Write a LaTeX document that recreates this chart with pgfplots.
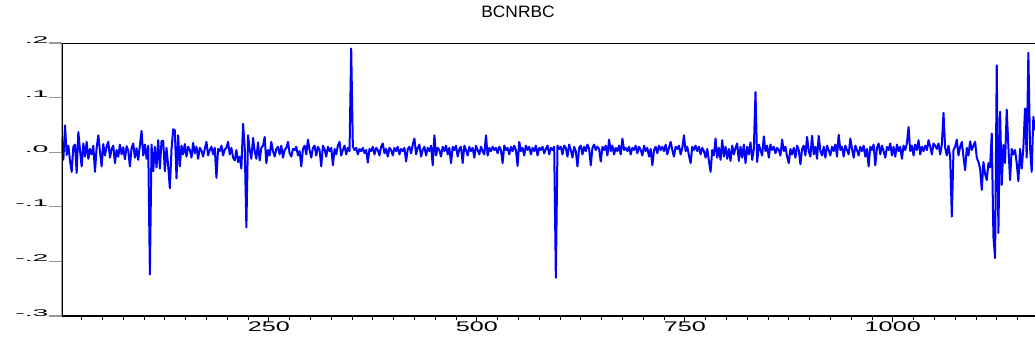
\documentclass[border=0pt]{standalone}
\usepackage{pgfplots}
\pgfplotsset{compat=1.18}
\usepackage{pgfplotstable}
\usepackage{fontspec}
\setmainfont{Liberation Sans}
\newfontfamily\titlefont[FakeStretch=1.05]{Liberation Sans}
\newfontfamily\xlabfont[FakeStretch=1.8]{Liberation Sans}
\newfontfamily\ylabfont[FakeStretch=2.9]{Liberation Sans}

\pgfplotstableread{
y
0.026
-0.014
0.049
-0.005
0.012
-0.016
-0.036
0.010
0.014
-0.038
0.037
0.004
-0.026
0.016
-0.008
0.019
-0.012
0.006
-0.004
0.012
-0.036
0.008
0.031
0.002
-0.026
0.015
-0.006
0.010
0.019
-0.010
0.006
0.012
-0.020
0.004
-0.008
0.014
-0.004
0.009
-0.013
0.011
0.003
-0.026
0.008
0.016
-0.010
0.007
-0.014
0.012
0.039
-0.006
0.014
-0.012
0.012
-0.224
0.014
-0.035
0.010
-0.028
0.022
-0.030
0.020
0.021
-0.035
0.008
-0.025
-0.066
0.005
0.042
0.040
-0.048
0.031
-0.026
0.012
-0.004
0.015
-0.008
0.010
0.004
-0.010
0.017
-0.002
0.010
-0.012
0.008
0.003
-0.008
0.006
0.019
-0.006
0.004
0.010
-0.004
0.008
-0.047
0.006
0.002
0.012
-0.006
0.005
0.008
0.019
-0.004
0.008
-0.010
-0.015
0.004
-0.018
-0.008
-0.030
0.052
0.010
-0.138
0.031
0.004
-0.012
0.026
0.002
-0.012
0.018
-0.015
0.008
0.012
0.028
-0.020
0.004
-0.006
0.019
0.002
-0.008
0.006
0.010
-0.004
0.012
-0.010
0.004
0.008
0.019
-0.002
-0.008
0.006
0.004
0.010
-0.006
0.002
-0.026
0.006
0.012
-0.004
0.023
0.004
-0.010
0.008
0.012
-0.006
0.010
0.004
-0.026
0.012
0.006
-0.008
0.010
0.002
0.008
-0.024
0.006
-0.004
0.012
0.019
-0.006
0.004
0.012
-0.004
0.008
0.002
0.190
0.010
0.004
0.008
-0.004
0.006
0.002
0.008
-0.002
0.004
-0.019
0.006
0.002
0.010
-0.004
0.008
0.004
-0.006
0.010
0.016
-0.002
0.006
-0.008
0.008
0.004
-0.006
0.008
0.002
0.010
-0.004
0.006
0.002
0.008
-0.017
0.006
0.010
-0.002
0.014
0.025
-0.004
0.008
0.014
-0.008
0.004
0.010
-0.006
0.008
0.002
0.012
-0.024
0.031
-0.006
0.008
0.004
-0.008
0.010
0.002
0.012
-0.004
0.008
-0.020
0.010
0.004
0.012
-0.008
0.006
0.010
-0.020
0.012
0.004
-0.006
0.010
0.002
0.008
-0.010
0.012
0.004
-0.004
0.010
0.002
-0.004
0.031
-0.006
0.008
0.002
0.010
0.004
0.008
-0.002
0.010
0.004
-0.020
0.012
0.004
0.008
-0.004
0.010
0.002
0.012
0.004
-0.025
0.019
0.002
0.008
-0.006
0.012
0.004
0.010
-0.004
0.008
0.002
0.012
-0.006
0.008
0.004
0.010
-0.002
0.006
0.012
-0.004
0.008
0.004
0.010
-0.230
0.012
0.006
0.010
-0.004
0.012
0.008
-0.008
0.014
0.004
-0.010
0.010
0.002
-0.026
0.008
0.012
-0.004
0.010
0.002
0.014
0.006
-0.024
0.008
0.014
0.004
0.010
0.006
-0.017
0.010
0.004
0.012
-0.006
0.023
0.002
0.012
-0.004
0.008
0.002
0.012
-0.004
0.025
0.004
0.008
0.002
0.010
-0.004
0.008
0.004
0.012
-0.002
0.010
0.004
-0.006
0.012
0.002
0.008
-0.008
0.006
-0.024
0.004
0.010
-0.002
0.012
0.004
0.010
0.002
0.014
-0.004
0.008
0.019
0.004
-0.008
0.010
0.006
0.012
-0.004
0.008
0.031
0.002
0.010
-0.006
-0.020
0.010
0.004
0.012
0.002
0.010
-0.004
0.008
0.002
-0.010
0.006
-0.016
-0.036
0.004
-0.006
0.025
-0.010
0.008
-0.014
0.022
-0.008
0.010
-0.012
0.006
-0.016
0.012
-0.004
0.008
0.016
-0.016
0.010
-0.010
0.014
-0.020
0.010
-0.004
0.018
-0.014
0.006
0.110
-0.018
0.014
0.004
-0.006
0.029
0.002
0.012
-0.010
0.014
0.004
0.010
-0.002
0.008
0.004
-0.006
0.023
0.002
0.010
-0.008
-0.020
0.006
-0.004
0.008
-0.010
0.012
0.004
-0.022
0.006
0.012
-0.006
0.028
0.002
-0.008
0.030
-0.004
0.010
-0.012
0.030
0.002
-0.006
0.010
-0.010
0.012
0.004
-0.006
0.010
0.002
0.014
-0.008
0.032
0.004
0.010
-0.008
0.012
0.004
-0.004
0.025
0.006
-0.010
0.012
0.004
-0.006
0.010
0.002
0.012
-0.008
0.006
-0.026
0.010
0.004
0.014
-0.024
0.008
0.016
-0.004
0.012
0.002
-0.010
0.010
0.004
0.016
-0.006
0.010
-0.008
0.014
0.002
0.010
-0.012
0.012
0.004
0.016
0.046
0.002
0.012
-0.006
0.014
0.004
0.022
-0.004
0.010
0.002
0.012
0.004
0.022
0.010
-0.004
0.016
0.012
0.006
0.016
-0.004
0.014
0.072
0.008
-0.006
0.012
-0.008
-0.118
0.004
0.010
0.023
-0.006
0.010
0.019
-0.008
-0.033
0.008
-0.006
0.020
0.004
0.012
0.019
-0.010
-0.018
-0.030
-0.069
-0.018
-0.040
-0.051
-0.020
-0.028
0.034
-0.155
-0.194
0.159
-0.148
0.074
-0.060
0.013
-0.020
0.078
0.010
-0.051
0.006
-0.004
0.004
-0.020
-0.053
0.006
-0.030
0.008
0.080
-0.010
0.182
0.010
-0.036
0.065
0.040
}\datatable

\begin{document}
\begin{tikzpicture}
\begin{axis}[
  scale only axis, width=973.3pt, height=273pt,
  xmin=1, xmax=1171, ymin=-0.3, ymax=0.2,
  axis line style={draw=none},
  tick align=outside,
  xtick pos=bottom, ytick pos=left,
  xtick={250,500,750,1000}, xticklabels={250,500,750,1000},
  minor xtick={25,50,...,1150},
  ytick={-0.3,-0.2,-0.1,0,0.1,0.2}, yticklabels={-.3,-.2,-.1,.0,.1,.2},
  major tick length=13pt, minor tick length=4pt,
  xtick style={draw=black, line width=0.9pt, /pgfplots/major tick length=6pt, /pgfplots/minor tick length=4pt},
  ytick style={draw=black!40, line width=1.3pt},
  xticklabel style={font=\xlabfont\fontsize{14}{14}\selectfont, anchor=base, inner sep=0pt, yshift=-2pt},
  yticklabel style={font=\ylabfont\fontsize{9.8}{9.8}\selectfont, anchor=base east, inner sep=0pt},
]
\addplot[color=blue, line width=2pt, line join=round, mark=none] table[x expr=2*\coordindex+1, y index=0] {\datatable};
\draw[black, line width=2pt] (rel axis cs:0,0) -- (rel axis cs:0,1);
\draw[black, line width=1.3pt] (rel axis cs:0,1) -- (rel axis cs:1,1);
\draw[black, line width=1.3pt] (rel axis cs:0,0) -- (rel axis cs:1,0);
\end{axis}
\node[anchor=base, inner sep=0pt, font=\titlefont\fontsize{16.5}{16.5}\selectfont] at (456.3pt,298pt) {BCNRBC};
\pgfresetboundingbox
\path (-61.7pt,-30pt) rectangle (973.3pt,316pt);
\end{tikzpicture}
\end{document}
